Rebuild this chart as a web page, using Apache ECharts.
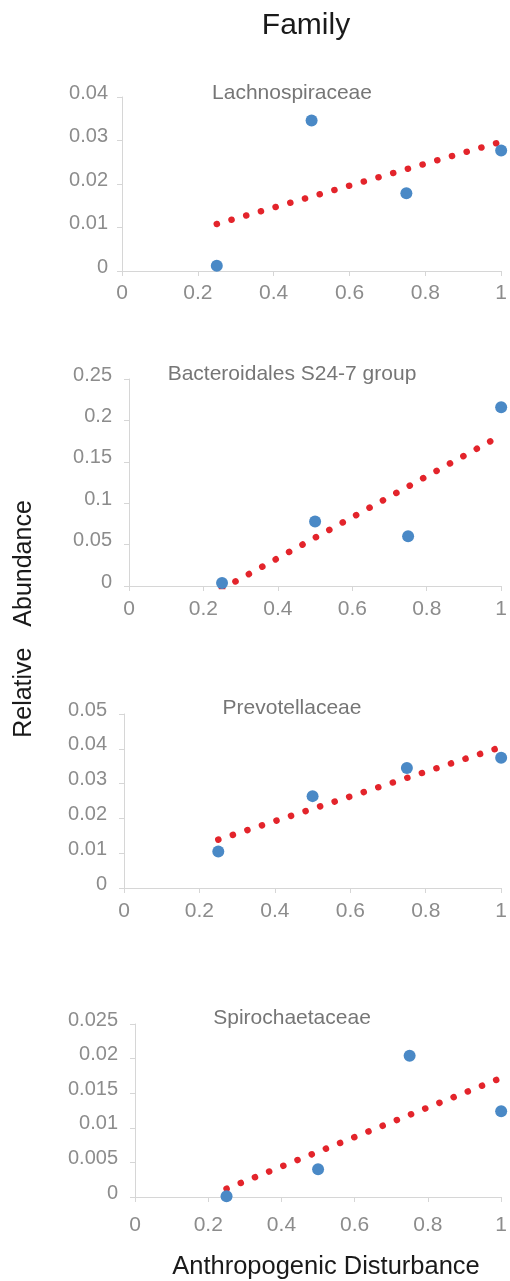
<!DOCTYPE html>
<html>
<head>
<meta charset="utf-8">
<script src="https://cdn.jsdelivr.net/npm/echarts@6/dist/echarts.min.js"></script>
<style>
  html, body { margin: 0; padding: 0; background: #ffffff; }
  #chart { width: 510px; height: 1281px; }
</style>
</head>
<body>
<div id="chart"></div>
<script>
// Disturbance levels shared by every family panel
const disturbance = [0.25, 0.5, 0.75, 1];

// Relative abundance per family
const lachnospiraceae = [0.0012, 0.0346, 0.0179, 0.0277];
const bacteroidalesS247 = [0.0036, 0.0779, 0.0601, 0.2158];
const prevotellaceae = [0.0105, 0.0264, 0.0345, 0.0374];
const spirochaetaceae = [0.0001, 0.0040, 0.0204, 0.0124];

// Linear trend line end points [x, y]
const lachnoTrend = [[0.25, 0.0108], [1, 0.0297]];
const bacteroTrend = [[0.25, -0.0034], [1, 0.182]];
const prevoTrend = [[0.25, 0.0139], [1, 0.0405]];
const spiroTrend = [[0.25, 0.0012], [1, 0.0172]];

// Axis ranges
const yMax = [0.04, 0.25, 0.05, 0.025];
const yStep = [0.01, 0.05, 0.01, 0.005];
const xMax = 1;
const xStep = 0.2;

const panelTitles = ['Lachnospiraceae', 'Bacteroidales S24-7 group', 'Prevotellaceae', 'Spirochaetaceae'];
const panelValues = [lachnospiraceae, bacteroidalesS247, prevotellaceae, spirochaetaceae];
const panelTrends = [lachnoTrend, bacteroTrend, prevoTrend, spiroTrend];

const FONT = 'Liberation Sans, Arial, sans-serif';
const BLUE = '#4a89c6';
const RED = '#e3242b';
const AXIS = '#d6d6d6';
const TICK_TEXT = '#8c8c8c';
const TITLE_TEXT = '#767676';

// Plot rectangles for the four stacked panels
const grids = [
  { left: 122, top: 97, width: 381, height: 174 },
  { left: 129, top: 379, width: 375, height: 207 },
  { left: 124, top: 714, width: 379, height: 174 },
  { left: 135, top: 1024, width: 368, height: 173 }
];
const yLabelMargin = [14, 17, 17, 17];
const xLabelMargin = [12, 13, 13, 18];

const fmt = v => String(+v.toFixed(4));

const xAxes = grids.map((g, i) => ({
  type: 'value', gridIndex: i, min: 0, max: xMax, interval: xStep,
  axisLine: { show: true, lineStyle: { color: AXIS, width: 1 } },
  axisTick: { show: true, length: 5, lineStyle: { color: AXIS } },
  splitLine: { show: false },
  axisLabel: { color: TICK_TEXT, fontSize: 21, fontFamily: FONT, margin: xLabelMargin[i], formatter: fmt }
}));

// Value labels sit slightly above their tick marks
const yAxes = grids.map((g, i) => ({
  type: 'value', gridIndex: i, min: 0, max: yMax[i], interval: yStep[i],
  axisLine: { show: true, lineStyle: { color: AXIS, width: 1 } },
  axisTick: { show: true, length: 5, lineStyle: { color: AXIS } },
  splitLine: { show: false },
  axisLabel: {
    color: TICK_TEXT, fontSize: 20, fontFamily: FONT, margin: yLabelMargin[i],
    verticalAlign: 'bottom', lineHeight: 8, formatter: fmt
  }
}));

const series = [];
panelValues.forEach((vals, i) => {
  series.push({
    type: 'line', xAxisIndex: i, yAxisIndex: i,
    data: panelTrends[i], showSymbol: false, symbol: 'none', silent: true, z: 2,
    lineStyle: { color: RED, width: 6.5, type: [0.1, 15.2], cap: 'round' }
  });
  series.push({
    type: 'scatter', xAxisIndex: i, yAxisIndex: i, clip: false, z: 3,
    data: disturbance.map((x, k) => [x, vals[k]]),
    symbolSize: 12, itemStyle: { color: BLUE, opacity: 1 }
  });
});

const titleCenters = [92, 373, 707, 1017];
const graphic = [
  { type: 'text', x: 306, y: 26, style: { text: 'Family', fill: '#1a1a1a', font: '30px ' + FONT, textAlign: 'center', textVerticalAlign: 'middle' } },
  { type: 'text', x: 326, y: 1267, style: { text: 'Anthropogenic Disturbance', fill: '#1a1a1a', font: '25.5px ' + FONT, textAlign: 'center', textVerticalAlign: 'middle' } },
  { type: 'text', x: 24, y: 619, rotation: Math.PI / 2, style: { text: 'Relative   Abundance', fill: '#1a1a1a', font: '25px ' + FONT, textAlign: 'center', textVerticalAlign: 'middle' } }
];
panelTitles.forEach((t, i) => {
  graphic.push({ type: 'text', x: 292, y: titleCenters[i] + 1, style: { text: t, fill: TITLE_TEXT, font: '21px ' + FONT, textAlign: 'center', textVerticalAlign: 'middle' } });
});

const chart = echarts.init(document.getElementById('chart'), null, { renderer: 'canvas' });
chart.setOption({
  backgroundColor: '#ffffff',
  animation: false,
  grid: grids,
  xAxis: xAxes,
  yAxis: yAxes,
  series: series,
  graphic: graphic
});
</script>
</body>
</html>
